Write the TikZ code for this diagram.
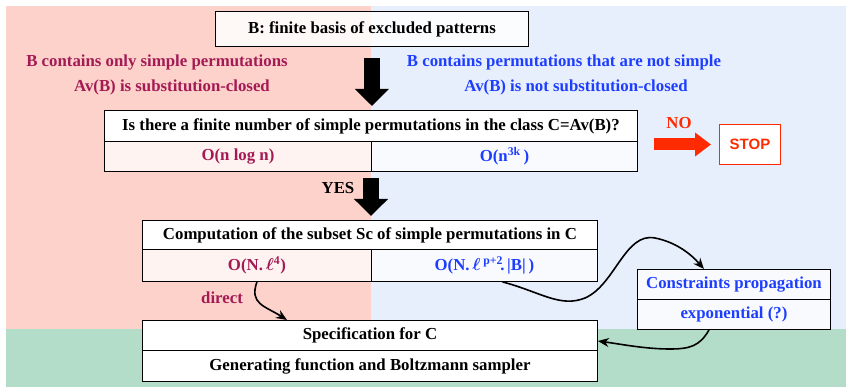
\documentclass[tikz,border=0pt]{standalone}
\usepackage{fontspec}
\setmainfont{Liberation Serif}
\newfontfamily\stopfont{Liberation Sans}
\usetikzlibrary{arrows.meta,calc}
\definecolor{pinkbg}{HTML}{FDD2CA}
\definecolor{bluebg}{HTML}{E8EFFC}
\definecolor{greenbg}{HTML}{B3DDC8}
\definecolor{maroonc}{HTML}{A31A55}
\definecolor{bluetxt}{HTML}{1E3EFF}
\definecolor{redc}{HTML}{FF2A00}
\begin{document}
\begin{tikzpicture}[x=1pt,y=-1pt,
  font=\fontsize{16.8}{19}\selectfont\bfseries\boldmath,
  cell/.style={draw=black, line width=0.9pt, rectangle, inner sep=0pt, anchor=north west, fill=white, text opacity=1},
  solidcell/.style={cell, fill opacity=1},
  softcell/.style={cell, fill opacity=0.75},
  bigarrow/.style={line width=16pt, -{Triangle[length=17pt,width=33pt]}},
  curvearrow/.style={line width=1.6pt, -{Stealth[length=11pt,width=9pt]}}
]
\useasboundingbox (0,0) rectangle (846,387);
\fill[pinkbg] (6,6) rectangle (371,329);
\fill[bluebg] (371,6) rectangle (846,329);
\fill[greenbg] (6,329) rectangle (846,387);

% top box
\node[cell, fill opacity=0.85, minimum width=313, minimum height=35] (basis) at (215,11) {B: finite basis of excluded patterns};

% side texts
\node[text=maroonc] (lt1) at (157,62) {B contains only simple permutations};
\node[text=maroonc] (lt2) at (172,87) {Av(B) is substitution-closed};
\node[text=bluetxt] (rt1) at (564,62) {B contains permutations that are not simple};
\node[text=bluetxt] (rt2) at (576,87) {Av(B) is not substitution-closed};

% question box
\node[solidcell, minimum width=533, minimum height=31] (q) at (104,110) {Is there a finite number of simple permutations in the class C=Av(B)?};
\node[softcell, minimum width=267, minimum height=30, text=maroonc] (q1) at (104,141) {O(n log n)};
\node[softcell, minimum width=266, minimum height=30, text=bluetxt] (q2) at (371,141) {O(n\textsuperscript{3k}\,)};

% NO / STOP
\node[text=redc] (no) at (679,123) {NO};
\node[cell, draw=redc, line width=1pt, minimum width=61, minimum height=40, text=redc, font=\stopfont\fontsize{15}{17}\selectfont\bfseries] (stop) at (719,124) {STOP};
\draw[redc, line width=12pt, -{Triangle[length=16pt,width=23pt]}] ($(stop.west)+(-65,0)$) -- ($(stop.west)+(-8,0)$);

% YES
\node (yes) at (338,188) {YES};

% computation box
\node[solidcell, minimum width=455, minimum height=29] (comp) at (142,220) {Computation of the subset Sc of simple permutations in C};
\node[softcell, minimum width=229, minimum height=32, text=maroonc] (c1) at (142,249) {O(N.\,$\ell$\textsuperscript{4})};
\node[softcell, minimum width=226, minimum height=32, text=bluetxt] (c2) at (371,249) {O(N.\,$\ell$\,\textsuperscript{p+2}\!.\,|B|\,)};

% constraints
\node[softcell, minimum width=193, minimum height=30, text=bluetxt] (cons) at (637,269) {Constraints propagation};
\node[softcell, minimum width=193, minimum height=30, text=bluetxt] (expo) at (637,299) {exponential (?)};

% specification
\node[solidcell, minimum width=455, minimum height=30] (spec) at (142,320) {Specification for C};
\node[solidcell, minimum width=455, minimum height=31] (gen) at (142,350) {Generating function and Boltzmann sampler};

\node[text=maroonc] (direct) at (222,298) {direct};

% big arrows
\draw[bigarrow] ($(basis.south)+(0,11)$) -- ($(basis.south |- q.north)+(0,-4)$);
\draw[bigarrow] ($(q2.south west)+(0,6)$) -- ($(q2.south west |- comp.north)+(0,-4)$);

% curved connectors
\draw[curvearrow] (c1.south) .. controls +(-8,22) and +(-22,-14) .. ($(spec.north west)+(145,0)$);
\draw[curvearrow] ($(c2.south)+(18,0)$) .. controls +(38,10) and +(-25,10) .. (585,298)
   .. controls +(30,-13) and +(-30,-6) .. (655,238)
   .. controls +(20,4) and +(-14,-16) .. ($(cons.north west)+(67,0)$);
\draw[curvearrow] ($(expo.south west)+(72,0)$) .. controls +(-9,16) and +(20,0) .. (670,349)
   .. controls +(-25,0) and +(22,3) .. ($(gen.north east)+(0,-9)$);
\end{tikzpicture}
\end{document}
